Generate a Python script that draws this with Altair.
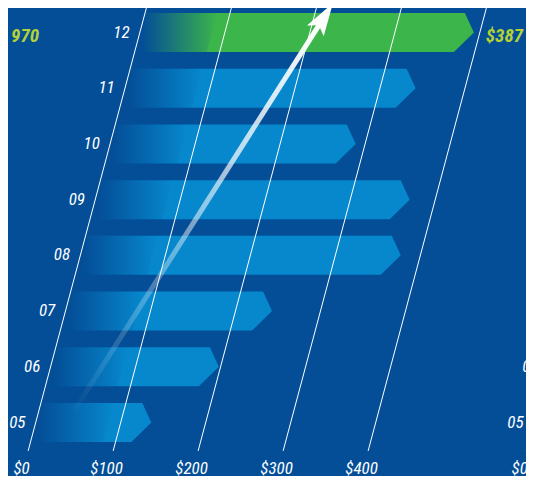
import math
import altair as alt
import pandas as pd

# ---------------- data ----------------
years = ["05", "06", "07", "08", "09", "10", "11", "12"]
values = [130, 192, 237, 371, 364, 283, 336, 387]
highlight_year = "12"
grid_values = [0, 100, 200, 300, 400]
grid_labels = ["$0", "$100", "$200", "$300", "$400"]
callout_right = "$387"
callout_left = "$1, 970"
arrow_start = [40, 0.15]    # (value, row)
arrow_end = [218, 7.53]     # (value, row)
second_panel_offset = 586   # neighbouring panel, mostly out of frame

# ---------------- style / geometry ----------------
BG = "#034e97"
BG_CLEAR = "rgba(3,78,151,0)"
BLUE = "#0788cd"
GREEN = "#3cb54a"
YELLOW = "#b4d235"
FONT = "Liberation Sans Narrow, Roboto Condensed, Roboto, sans-serif"
W, H = 518, 468
PXU = 0.85                       # px per value unit
XDOM = [-32.6, -32.6 + W / PXU]
YDOM = [-0.960, 7.440]
SKEW = 17.5                      # value units of slant per row
HALF = 0.35
TOP_CUT, BOT_CUT, TIP_EXTRA = 10.6, 23.5, 6
FADE = 85
GRID_LO, GRID_HI = -0.51, 7.44
LABEL_ROW = -0.835

xs = alt.Scale(domain=XDOM, nice=False, zero=False)
ys = alt.Scale(domain=YDOM, nice=False, zero=False)

# bars (chevron polygons)
bar_rows, fade_rows = [], []
for i, (yr, v) in enumerate(zip(years, values)):
    tip = v + TIP_EXTRA + SKEW * i
    for dy, cut in [(HALF, TOP_CUT), (0.0, 0.0), (-HALF, BOT_CUT)]:
        bar_rows.append(dict(year=yr, y=i + dy, xl=SKEW * (i + dy), xr=tip - cut))
    for dy in [HALF + 0.01, -(HALF + 0.01)]:
        fade_rows.append(dict(year=yr, y=i + dy, xl=SKEW * (i + dy) - 2, xf=SKEW * (i + dy) + FADE))
bar_df = pd.DataFrame(bar_rows)
fade_df = pd.DataFrame(fade_rows)

grid_rows = []
for off in [0, second_panel_offset]:
    for g in grid_values:
        grid_rows.append(dict(x=off + g + SKEW * GRID_LO, x2=off + g + SKEW * GRID_HI, y=GRID_LO, y2=GRID_HI))
grid_df = pd.DataFrame(grid_rows)

year_rows = []
for off in [0, second_panel_offset]:
    for i, yr in enumerate(years):
        year_rows.append(dict(x=off + SKEW * i - 12, y=i, t=yr))
year_df = pd.DataFrame(year_rows)

tick_rows = []
for off in [0, second_panel_offset]:
    for g, lab in zip(grid_values, grid_labels):
        tick_rows.append(dict(x=off + g + SKEW * LABEL_ROW - 2, y=LABEL_ROW, t=lab))
tick_df = pd.DataFrame(tick_rows)

# arrow
sx = arrow_start[0] + SKEW * arrow_start[1]
ex = arrow_end[0] + SKEW * arrow_end[1]
frac = 0.95
shaft_df = pd.DataFrame([
    dict(x=sx, y=arrow_start[1], o=0),
    dict(x=sx + frac * (ex - sx), y=arrow_start[1] + frac * (arrow_end[1] - arrow_start[1]), o=1),
])
head_df = pd.DataFrame([dict(x=ex, y=arrow_end[1])])
ppr = H / (YDOM[1] - YDOM[0])
ang = math.degrees(math.atan2((ex - sx) * PXU, (arrow_end[1] - arrow_start[1]) * ppr))

tip12 = values[-1] + TIP_EXTRA + SKEW * (len(years) - 1)
call_df = pd.DataFrame([dict(x=tip12 + 14, y=6.94, t=callout_right)])
call_left_df = pd.DataFrame([dict(x=4, y=6.94, t=callout_left)])

# ---------------- layers ----------------
bars = alt.Chart(bar_df).mark_area(orient="horizontal", interpolate="linear").encode(
    y=alt.Y("y:Q", scale=ys, axis=None),
    x=alt.X("xl:Q", scale=xs, axis=None, stack=None),
    x2="xr:Q",
    detail="year:N",
    color=alt.condition(alt.datum.year == highlight_year, alt.value(GREEN), alt.value(BLUE)),
)

fade = alt.Chart(fade_df).mark_area(
    orient="horizontal",
    fill=alt.LinearGradient(
        gradient="linear",
        stops=[alt.GradientStop(color=BG, offset=0), alt.GradientStop(color=BG, offset=0.12),
               alt.GradientStop(color=BG_CLEAR, offset=1)],
        x1=0, x2=1, y1=0, y2=0),
).encode(
    y=alt.Y("y:Q", scale=ys, axis=None),
    x=alt.X("xl:Q", scale=xs, axis=None, stack=None),
    x2="xf:Q",
    detail="year:N",
)

grid = alt.Chart(grid_df).mark_rule(color="white", strokeWidth=1).encode(
    x=alt.X("x:Q", scale=xs, axis=None), x2="x2:Q",
    y=alt.Y("y:Q", scale=ys, axis=None), y2="y2:Q",
)

shaft = alt.Chart(shaft_df).mark_line(
    strokeWidth=5, strokeCap="butt",
    stroke=alt.LinearGradient(
        gradient="linear",
        stops=[alt.GradientStop(color="rgba(255,255,255,0)", offset=0),
               alt.GradientStop(color="rgba(255,255,255,0.3)", offset=0.35),
               alt.GradientStop(color="rgba(255,255,255,0.7)", offset=0.65),
               alt.GradientStop(color="rgba(255,255,255,1)", offset=1)],
        x1=0, y1=1, x2=1, y2=0),
).encode(
    x=alt.X("x:Q", scale=xs, axis=None), y=alt.Y("y:Q", scale=ys, axis=None), order="o:Q",
)

head = alt.Chart(head_df).mark_point(
    shape="M0,0L0.6,2L0,1.6L-0.6,2Z", size=1089, angle=round(ang, 1),
    filled=True, color="white", opacity=1, strokeWidth=0,
).encode(x=alt.X("x:Q", scale=xs, axis=None), y=alt.Y("y:Q", scale=ys, axis=None))

year_text = alt.Chart(year_df).mark_text(
    align="right", baseline="middle", font=FONT, fontSize=17, fontStyle="italic", color="white",
).encode(x=alt.X("x:Q", scale=xs, axis=None), y=alt.Y("y:Q", scale=ys, axis=None), text="t:N")

tick_text = alt.Chart(tick_df).mark_text(
    align="center", baseline="middle", font=FONT, fontSize=17, fontStyle="italic", color="white",
).encode(x=alt.X("x:Q", scale=xs, axis=None), y=alt.Y("y:Q", scale=ys, axis=None), text="t:N")

call_r = alt.Chart(call_df).mark_text(
    align="left", baseline="middle", font=FONT, fontSize=19, fontStyle="italic", fontWeight="bold", color=YELLOW,
).encode(x=alt.X("x:Q", scale=xs, axis=None), y=alt.Y("y:Q", scale=ys, axis=None), text="t:N")

call_l = alt.Chart(call_left_df).mark_text(
    align="right", baseline="middle", font=FONT, fontSize=19, fontStyle="italic", fontWeight="bold", color=YELLOW,
).encode(x=alt.X("x:Q", scale=xs, axis=None), y=alt.Y("y:Q", scale=ys, axis=None), text="t:N")

chart = alt.layer(bars, fade, grid, shaft, head, year_text, tick_text, call_r, call_l).properties(
    width=W, height=H, autosize=alt.AutoSizeParams(type="none"), padding=0, background=BG,
).configure_view(strokeWidth=0)

chart.save("out.html", embed_options={"renderer": "svg", "actions": False})
